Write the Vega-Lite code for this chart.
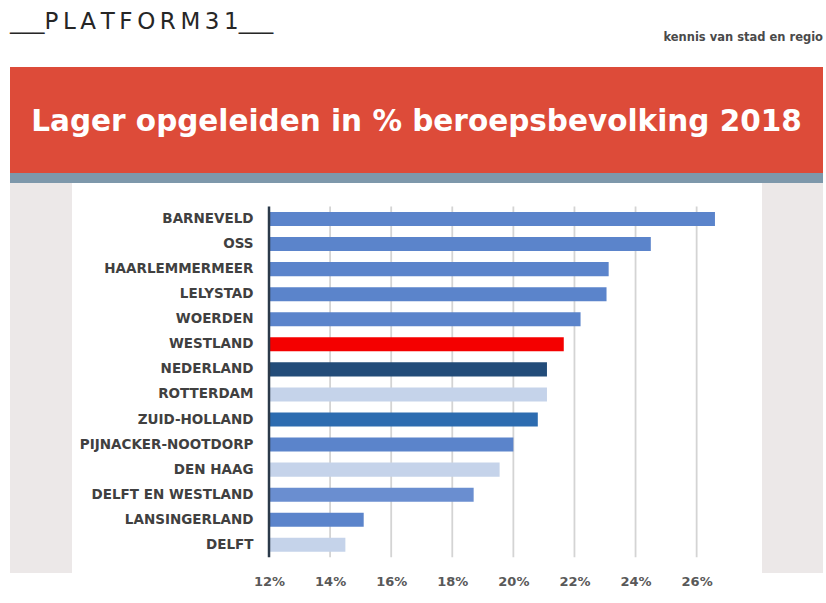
{
  "$schema": "https://vega.github.io/schema/vega-lite/v6.json",
  "background": "white",
  "padding": {"left": 10, "top": 0, "right": 0, "bottom": 0},
  "config": {"view": {"stroke": null}, "concat": {"spacing": 0}},
  "datasets": {
    "waarden": [
      {"gebied": "BARNEVELD", "aandeel": 26.6, "soort": "gemeente"},
      {"gebied": "OSS", "aandeel": 24.5, "soort": "gemeente"},
      {"gebied": "HAARLEMMERMEER", "aandeel": 23.12, "soort": "gemeente"},
      {"gebied": "LELYSTAD", "aandeel": 23.05, "soort": "gemeente"},
      {"gebied": "WOERDEN", "aandeel": 22.2, "soort": "gemeente"},
      {"gebied": "WESTLAND", "aandeel": 21.65, "soort": "Westland"},
      {"gebied": "NEDERLAND", "aandeel": 21.1, "soort": "Nederland"},
      {"gebied": "ROTTERDAM", "aandeel": 21.1, "soort": "grote stad"},
      {"gebied": "ZUID-HOLLAND", "aandeel": 20.8, "soort": "provincie"},
      {"gebied": "PIJNACKER-NOOTDORP", "aandeel": 20.0, "soort": "gemeente"},
      {"gebied": "DEN HAAG", "aandeel": 19.55, "soort": "grote stad"},
      {"gebied": "DELFT EN WESTLAND", "aandeel": 18.7, "soort": "regio"},
      {"gebied": "LANSINGERLAND", "aandeel": 15.1, "soort": "gemeente"},
      {"gebied": "DELFT", "aandeel": 14.5, "soort": "grote stad"}
    ],
    "raster": [
      {"t": 12}, {"t": 14}, {"t": 16}, {"t": 18}, {"t": 20}, {"t": 22}, {"t": 24}, {"t": 26}
    ]
  },
  "vconcat": [
    {
      "width": 813,
      "height": 67,
      "layer": [
        {
          "data": {"values": [{"logo": "___P\u2009L\u2009A\u2009T\u2009F\u2009O\u2009R\u2009M\u20093\u20091___"}]},
          "mark": {"type": "text", "align": "left", "baseline": "bottom", "font": "DejaVu Sans", "fontSize": 23, "color": "#262626"},
          "encoding": {"text": {"field": "logo"}, "x": {"value": 0}}
        },
        {
          "data": {"values": [{"tekst": "kennis van stad en regio"}]},
          "mark": {"type": "text", "align": "right", "baseline": "middle", "dy": 4, "font": "DejaVu Sans", "fontWeight": "bold", "fontSize": 11.5, "color": "#4a4a4a"},
          "encoding": {"text": {"field": "tekst"}, "x": {"value": "width"}}
        }
      ]
    },
    {
      "width": 813,
      "height": 106,
      "view": {"fill": "#dd4b39", "stroke": null},
      "data": {"values": [{"titel": "Lager opgeleiden in % beroepsbevolking 2018"}]},
      "mark": {"type": "text", "font": "DejaVu Sans", "fontWeight": "bold", "fontSize": 29.5, "color": "#ffffff", "dy": 2},
      "encoding": {"text": {"field": "titel"}}
    },
    {
      "width": 813,
      "height": 10,
      "view": {"fill": "#7e98ab", "stroke": null},
      "data": {"values": []},
      "mark": "rect"
    },
    {
      "hconcat": [
        {
          "width": 62,
          "height": 390,
          "view": {"fill": "#ece8e8", "stroke": null},
          "data": {"values": []},
          "mark": "rect"
        },
        {
          "width": 690,
          "height": 390,
          "view": {"fill": "#ffffff", "stroke": null},
          "layer": [
            {
              "data": {"name": "raster"},
              "transform": [{"filter": "datum.t > 12"}],
              "mark": {"type": "rule", "color": "#d4d4d4", "strokeWidth": 1.8},
              "encoding": {
                "x": {"field": "t", "type": "quantitative", "title": null},
                "y": {"datum": "BARNEVELD", "type": "nominal", "bandPosition": -0.39},
                "y2": {"datum": "DELFT", "bandPosition": 1.39}
              }
            },
            {
              "data": {"name": "waarden"},
              "mark": {"type": "bar"},
              "encoding": {
                "y": {
                  "field": "gebied",
                  "type": "nominal",
                  "scale": {
                    "domain": ["BARNEVELD", "OSS", "HAARLEMMERMEER", "LELYSTAD", "WOERDEN", "WESTLAND", "NEDERLAND", "ROTTERDAM", "ZUID-HOLLAND", "PIJNACKER-NOOTDORP", "DEN HAAG", "DELFT EN WESTLAND", "LANSINGERLAND", "DELFT"],
                    "paddingInner": 0.44,
                    "paddingOuter": 1.02,
                    "align": 0.578
                  },
                  "axis": {
                    "orient": "left",
                    "offset": -197,
                    "domain": false,
                    "ticks": false,
                    "grid": false,
                    "labelPadding": 16,
                    "labelFont": "DejaVu Sans",
                    "labelFontWeight": "bold",
                    "labelFontSize": 13.5,
                    "labelColor": "#404040",
                    "labelLimit": 260,
                    "title": null
                  }
                },
                "x": {
                  "field": "aandeel",
                  "type": "quantitative",
                  "scale": {"domain": [5.55, 28.14], "nice": false, "zero": false},
                  "axis": {
                    "values": [12, 14, 16, 18, 20, 22, 24, 26],
                    "labelExpr": "datum.value + '%'",
                    "domain": false,
                    "ticks": false,
                    "grid": false,
                    "labelPadding": 2,
                    "labelFont": "DejaVu Sans",
                    "labelFontWeight": "bold",
                    "labelFontSize": 13,
                    "labelColor": "#595959",
                    "title": null
                  }
                },
                "x2": {"datum": 12},
                "color": {
                  "field": "soort",
                  "type": "nominal",
                  "scale": {
                    "domain": ["gemeente", "Westland", "Nederland", "grote stad", "provincie", "regio"],
                    "range": ["#5b84cb", "#f40000", "#234c79", "#c5d3ea", "#2d6cb0", "#6a8ed0"]
                  },
                  "legend": null
                }
              }
            },
            {
              "data": {"name": "raster"},
              "transform": [{"filter": "datum.t == 12"}],
              "mark": {"type": "rule", "color": "#2b3a4a", "strokeWidth": 2.5},
              "encoding": {
                "x": {"field": "t", "type": "quantitative", "title": null},
                "y": {"datum": "BARNEVELD", "type": "nominal", "bandPosition": -0.39},
                "y2": {"datum": "DELFT", "bandPosition": 1.39}
              }
            }
          ]
        },
        {
          "width": 61,
          "height": 390,
          "view": {"fill": "#ece8e8", "stroke": null},
          "data": {"values": []},
          "mark": "rect"
        }
      ]
    }
  ]
}
